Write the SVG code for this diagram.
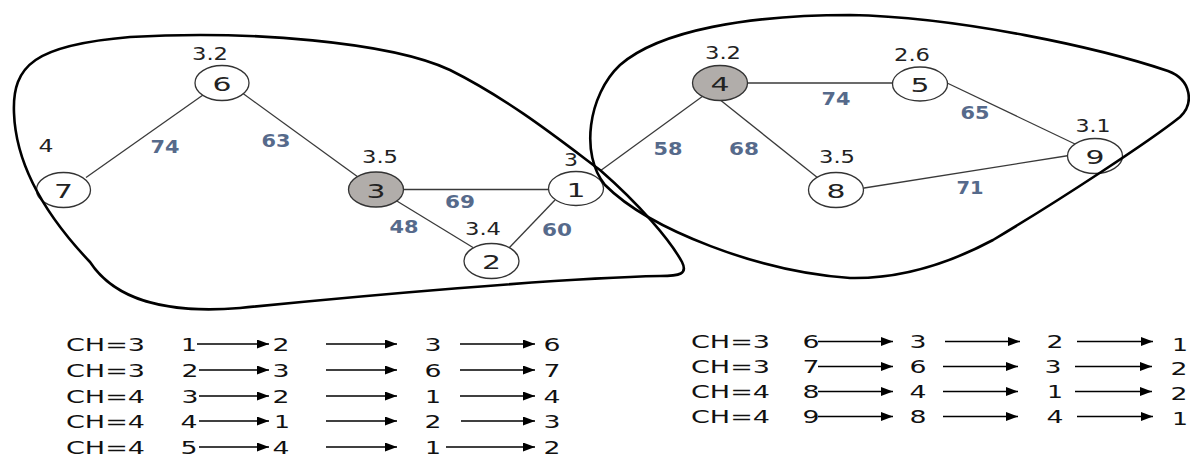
<svg xmlns="http://www.w3.org/2000/svg" width="1190" height="459" viewBox="0 0 1190 459">
  <style>
    text { font-family: "DejaVu Sans", "Liberation Sans", sans-serif; }
    .node { fill: #ffffff; stroke: #333333; stroke-width: 1.3; }
    .node.head { fill: #b1adaa; }
    .nid { font-size: 20px; fill: #222222; text-anchor: middle; }
    .sc { font-size: 17px; fill: #222222; text-anchor: middle; }
    .w { font-size: 18px; font-weight: bold; fill: #566a8b; text-anchor: middle; }
    .edge { stroke: #3a3a3a; stroke-width: 1.3; fill: none; }
    .cluster { stroke: #000000; stroke-width: 2.6; fill: none; }
    .row { font-size: 17px; fill: #111111; }
    .rd { font-size: 17px; fill: #111111; text-anchor: middle; }
    .arr { stroke: #000000; stroke-width: 1.5; marker-end: url(#tip); }
  </style>
  <defs>
    <marker id="tip" markerUnits="userSpaceOnUse" markerWidth="12" markerHeight="9" refX="12" refY="4.5" orient="auto">
      <path d="M0,0 L12,4.5 L0,9 Z" fill="#000000"/>
    </marker>
  </defs>

  <!-- edges with weights -->
  <g id="connectors">
    <line class="edge" x1="203" y1="95" x2="86" y2="177.5"/>
    <line class="edge" x1="243" y1="93.5" x2="358" y2="177"/>
    <line class="edge" x1="400" y1="189.5" x2="551" y2="189.5"/>
    <line class="edge" x1="396" y1="200.5" x2="473" y2="247.5"/>
    <line class="edge" x1="509" y1="248" x2="555" y2="200"/>
    <line class="edge" x1="600" y1="171" x2="703" y2="96"/>
    <line class="edge" x1="745" y1="83" x2="895" y2="83"/>
    <line class="edge" x1="719" y1="99" x2="818" y2="178"/>
    <line class="edge" x1="945" y1="82" x2="1075" y2="144"/>
    <line class="edge" x1="861" y1="188.5" x2="1069" y2="155.5"/>
    <text class="w" x="165" y="153" textLength="29" lengthAdjust="spacingAndGlyphs">74</text>
    <text class="w" x="276" y="147" textLength="29" lengthAdjust="spacingAndGlyphs">63</text>
    <text class="w" x="404" y="233" textLength="29" lengthAdjust="spacingAndGlyphs">48</text>
    <text class="w" x="460" y="208" textLength="30" lengthAdjust="spacingAndGlyphs">69</text>
    <text class="w" x="557" y="236" textLength="30" lengthAdjust="spacingAndGlyphs">60</text>
    <text class="w" x="668" y="155" textLength="29" lengthAdjust="spacingAndGlyphs">58</text>
    <text class="w" x="744" y="155" textLength="30" lengthAdjust="spacingAndGlyphs">68</text>
    <text class="w" x="836" y="105" textLength="29" lengthAdjust="spacingAndGlyphs">74</text>
    <text class="w" x="975" y="119" textLength="29" lengthAdjust="spacingAndGlyphs">65</text>
    <text class="w" x="970" y="194" textLength="27" lengthAdjust="spacingAndGlyphs">71</text>
  </g>

  <!-- nodes: ellipse, id digit, score above -->
  <g id="node-6">
    <ellipse class="node" cx="222" cy="83" rx="27" ry="17.5"/>
    <text class="nid" x="222" y="91" textLength="19" lengthAdjust="spacingAndGlyphs">6</text>
    <text class="sc" x="210" y="60" textLength="36" lengthAdjust="spacingAndGlyphs">3.2</text>
  </g>
  <g id="node-7">
    <ellipse class="node" cx="63.5" cy="190" rx="27" ry="17.5"/>
    <text class="nid" x="63.5" y="198" textLength="19" lengthAdjust="spacingAndGlyphs">7</text>
    <text class="sc" x="46" y="152" textLength="15" lengthAdjust="spacingAndGlyphs">4</text>
  </g>
  <g id="node-3">
    <ellipse class="node head" cx="376" cy="189.5" rx="27.5" ry="17.5"/>
    <text class="nid" x="376" y="197.5" textLength="19" lengthAdjust="spacingAndGlyphs">3</text>
    <text class="sc" x="380" y="163" textLength="36" lengthAdjust="spacingAndGlyphs">3.5</text>
  </g>
  <g id="node-1">
    <ellipse class="node" cx="576" cy="188.5" rx="27.5" ry="17"/>
    <text class="nid" x="576" y="196.5" textLength="19" lengthAdjust="spacingAndGlyphs">1</text>
    <text class="sc" x="571" y="166" textLength="14" lengthAdjust="spacingAndGlyphs">3</text>
  </g>
  <g id="node-2">
    <ellipse class="node" cx="491.5" cy="261" rx="27.5" ry="17.5"/>
    <text class="nid" x="491.5" y="269" textLength="19" lengthAdjust="spacingAndGlyphs">2</text>
    <text class="sc" x="483" y="235" textLength="36" lengthAdjust="spacingAndGlyphs">3.4</text>
  </g>
  <g id="node-4">
    <ellipse class="node head" cx="720" cy="83" rx="27.5" ry="17.5"/>
    <text class="nid" x="720" y="91" textLength="19" lengthAdjust="spacingAndGlyphs">4</text>
    <text class="sc" x="723" y="59" textLength="36" lengthAdjust="spacingAndGlyphs">3.2</text>
  </g>
  <g id="node-5">
    <ellipse class="node" cx="920" cy="84" rx="27.5" ry="17"/>
    <text class="nid" x="920" y="92" textLength="19" lengthAdjust="spacingAndGlyphs">5</text>
    <text class="sc" x="912" y="61" textLength="36" lengthAdjust="spacingAndGlyphs">2.6</text>
  </g>
  <g id="node-8">
    <ellipse class="node" cx="836" cy="190" rx="27.5" ry="17.5"/>
    <text class="nid" x="836" y="198" textLength="19" lengthAdjust="spacingAndGlyphs">8</text>
    <text class="sc" x="837" y="163" textLength="36" lengthAdjust="spacingAndGlyphs">3.5</text>
  </g>
  <g id="node-9">
    <ellipse class="node" cx="1095" cy="156" rx="27.5" ry="17.5"/>
    <text class="nid" x="1095" y="164" textLength="19" lengthAdjust="spacingAndGlyphs">9</text>
    <text class="sc" x="1093" y="132" textLength="35" lengthAdjust="spacingAndGlyphs">3.1</text>
  </g>

  <!-- cluster outlines -->
  <g id="clusters">
    <path class="cluster" d="M 14,113 C 12,65 35,45 130,37 C 250,30 390,42 450,70 C 510,100 560,140 600,170 C 640,205 670,240 682,262 C 688,274 680,276 660,276 C 560,278 360,296 240,308 C 165,314 115,300 90,262 C 50,220 16,170 14,113 Z"/>
    <path class="cluster" d="M 850,15 C 960,17 1100,48 1168,71 C 1192,80 1194,104 1180,117 C 1150,141 1060,200 993,240 C 950,263 900,279 850,278 C 760,272 650,230 605,185 C 580,155 588,95 620,65 C 660,30 750,15 850,15 Z"/>
  </g>

  <!-- routing tables, left column -->
  <g id="table-left">
    <text class="row" x="66" y="351" textLength="79" lengthAdjust="spacingAndGlyphs">CH=3</text>
    <text class="rd" x="189" y="351" textLength="16" lengthAdjust="spacingAndGlyphs">1</text>
    <line class="arr" x1="197" y1="344" x2="269" y2="344"/>
    <text class="rd" x="281" y="351" textLength="17" lengthAdjust="spacingAndGlyphs">2</text>
    <line class="arr" x1="326" y1="344" x2="397" y2="344"/>
    <text class="rd" x="433" y="351" textLength="17" lengthAdjust="spacingAndGlyphs">3</text>
    <line class="arr" x1="460" y1="344" x2="535" y2="344"/>
    <text class="rd" x="552" y="351" textLength="17" lengthAdjust="spacingAndGlyphs">6</text>

    <text class="row" x="66" y="377" textLength="79" lengthAdjust="spacingAndGlyphs">CH=3</text>
    <text class="rd" x="190" y="377" textLength="17" lengthAdjust="spacingAndGlyphs">2</text>
    <line class="arr" x1="199" y1="370" x2="269" y2="370"/>
    <text class="rd" x="281" y="377" textLength="17" lengthAdjust="spacingAndGlyphs">3</text>
    <line class="arr" x1="326" y1="370" x2="397" y2="370"/>
    <text class="rd" x="433" y="377" textLength="17" lengthAdjust="spacingAndGlyphs">6</text>
    <line class="arr" x1="460" y1="370" x2="535" y2="370"/>
    <text class="rd" x="552" y="377" textLength="17" lengthAdjust="spacingAndGlyphs">7</text>

    <text class="row" x="66" y="403" textLength="79" lengthAdjust="spacingAndGlyphs">CH=4</text>
    <text class="rd" x="190" y="403" textLength="17" lengthAdjust="spacingAndGlyphs">3</text>
    <line class="arr" x1="199" y1="396" x2="269" y2="396"/>
    <text class="rd" x="281" y="403" textLength="17" lengthAdjust="spacingAndGlyphs">2</text>
    <line class="arr" x1="326" y1="396" x2="397" y2="396"/>
    <text class="rd" x="433" y="403" textLength="16" lengthAdjust="spacingAndGlyphs">1</text>
    <line class="arr" x1="460" y1="396" x2="535" y2="396"/>
    <text class="rd" x="552" y="403" textLength="17" lengthAdjust="spacingAndGlyphs">4</text>

    <text class="row" x="66" y="428" textLength="79" lengthAdjust="spacingAndGlyphs">CH=4</text>
    <text class="rd" x="189" y="428" textLength="17" lengthAdjust="spacingAndGlyphs">4</text>
    <line class="arr" x1="199" y1="421" x2="269" y2="421"/>
    <text class="rd" x="282" y="428" textLength="16" lengthAdjust="spacingAndGlyphs">1</text>
    <line class="arr" x1="326" y1="421" x2="397" y2="421"/>
    <text class="rd" x="433" y="428" textLength="17" lengthAdjust="spacingAndGlyphs">2</text>
    <line class="arr" x1="461" y1="421" x2="535" y2="421"/>
    <text class="rd" x="552" y="428" textLength="17" lengthAdjust="spacingAndGlyphs">3</text>

    <text class="row" x="66" y="454" textLength="79" lengthAdjust="spacingAndGlyphs">CH=4</text>
    <text class="rd" x="189" y="454" textLength="17" lengthAdjust="spacingAndGlyphs">5</text>
    <line class="arr" x1="199" y1="447" x2="269" y2="447"/>
    <text class="rd" x="281" y="454" textLength="17" lengthAdjust="spacingAndGlyphs">4</text>
    <line class="arr" x1="326" y1="447" x2="397" y2="447"/>
    <text class="rd" x="433" y="454" textLength="16" lengthAdjust="spacingAndGlyphs">1</text>
    <line class="arr" x1="446" y1="447" x2="535" y2="447"/>
    <text class="rd" x="552" y="454" textLength="17" lengthAdjust="spacingAndGlyphs">2</text>
  </g>

  <!-- routing tables, right column -->
  <g id="table-right">
    <text class="row" x="691" y="348" textLength="79" lengthAdjust="spacingAndGlyphs">CH=3</text>
    <text class="rd" x="811" y="348" textLength="17" lengthAdjust="spacingAndGlyphs">6</text>
    <line class="arr" x1="818" y1="341.5" x2="893" y2="341.5"/>
    <text class="rd" x="918" y="348" textLength="17" lengthAdjust="spacingAndGlyphs">3</text>
    <line class="arr" x1="945" y1="341.5" x2="1020" y2="341.5"/>
    <text class="rd" x="1055" y="348" textLength="17" lengthAdjust="spacingAndGlyphs">2</text>
    <line class="arr" x1="1077" y1="341.5" x2="1153" y2="341.5"/>
    <text class="rd" x="1180" y="351" textLength="16" lengthAdjust="spacingAndGlyphs">1</text>

    <text class="row" x="691" y="373" textLength="79" lengthAdjust="spacingAndGlyphs">CH=3</text>
    <text class="rd" x="811" y="373" textLength="17" lengthAdjust="spacingAndGlyphs">7</text>
    <line class="arr" x1="818" y1="366.5" x2="893" y2="366.5"/>
    <text class="rd" x="918" y="373" textLength="17" lengthAdjust="spacingAndGlyphs">6</text>
    <line class="arr" x1="943" y1="366.5" x2="1018" y2="366.5"/>
    <text class="rd" x="1053" y="373" textLength="17" lengthAdjust="spacingAndGlyphs">3</text>
    <line class="arr" x1="1075" y1="366.5" x2="1152" y2="366.5"/>
    <text class="rd" x="1179" y="375" textLength="17" lengthAdjust="spacingAndGlyphs">2</text>

    <text class="row" x="691" y="398" textLength="79" lengthAdjust="spacingAndGlyphs">CH=4</text>
    <text class="rd" x="811" y="398" textLength="17" lengthAdjust="spacingAndGlyphs">8</text>
    <line class="arr" x1="818" y1="391.5" x2="893" y2="391.5"/>
    <text class="rd" x="918" y="398" textLength="17" lengthAdjust="spacingAndGlyphs">4</text>
    <line class="arr" x1="943" y1="391.5" x2="1018" y2="391.5"/>
    <text class="rd" x="1055" y="398" textLength="16" lengthAdjust="spacingAndGlyphs">1</text>
    <line class="arr" x1="1075" y1="391.5" x2="1152" y2="391.5"/>
    <text class="rd" x="1179" y="400" textLength="17" lengthAdjust="spacingAndGlyphs">2</text>

    <text class="row" x="691" y="423" textLength="79" lengthAdjust="spacingAndGlyphs">CH=4</text>
    <text class="rd" x="811" y="423" textLength="17" lengthAdjust="spacingAndGlyphs">9</text>
    <line class="arr" x1="818" y1="416.5" x2="893" y2="416.5"/>
    <text class="rd" x="918" y="423" textLength="17" lengthAdjust="spacingAndGlyphs">8</text>
    <line class="arr" x1="943" y1="416.5" x2="1018" y2="416.5"/>
    <text class="rd" x="1055" y="423" textLength="17" lengthAdjust="spacingAndGlyphs">4</text>
    <line class="arr" x1="1077" y1="416.5" x2="1153" y2="416.5"/>
    <text class="rd" x="1180" y="425" textLength="16" lengthAdjust="spacingAndGlyphs">1</text>
  </g>
</svg>
